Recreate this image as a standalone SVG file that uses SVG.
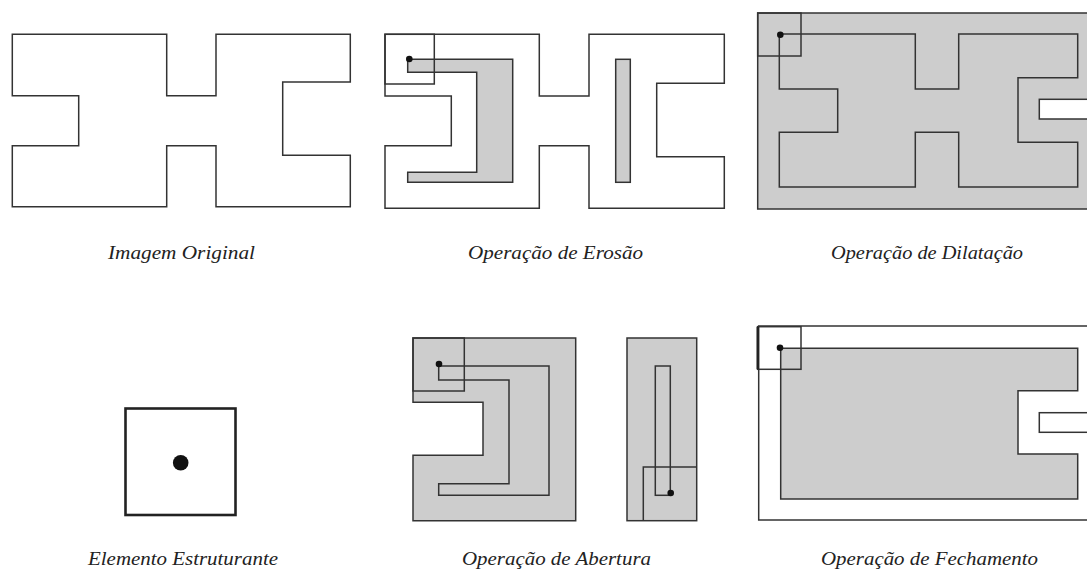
<svg xmlns="http://www.w3.org/2000/svg" width="1087" height="576" viewBox="0 0 1087 576">
<style>
.ln{fill:none;stroke:#333;stroke-width:1.5;stroke-linejoin:miter}
.gf{fill:#cdcdcd;stroke:#333;stroke-width:1.5}
.wf{fill:#fff;stroke:#333;stroke-width:1.5}
.dot{fill:#111}
.lbl{font-family:"Liberation Serif","DejaVu Serif",serif;font-style:italic;font-size:18px;fill:#222}
</style>
<rect width="1087" height="576" fill="#fff"/>
<g id="original">
<path class="ln" d="M12.3,34.3 H166.7 V95.7 H216 V34.3 H350.3 V82 H282.7 V155.3 H350.3 V206.7 H216 V145.7 H166.7 V206.7 H12.3 V145.7 H78.7 V95.7 H12.3 Z"/>
<text class="lbl" x="108" y="259" textLength="147" lengthAdjust="spacingAndGlyphs">Imagem Original</text>
</g>
<g id="erosao">
<path class="ln" d="M385,34.3 H539.3 V96 H589 V34.3 H724.3 V83.3 H656.7 V156.7 H724.3 V208.3 H589 V145.7 H539.3 V208.3 H385 V145.7 H451.3 V96 H385 Z"/>
<path class="gf" d="M407.7,59.3 H512.7 V182.3 H407.7 V172.3 H476.7 V72.3 H407.7 Z"/>
<rect class="gf" x="615.7" y="59.3" width="14.6" height="123"/>
<rect class="ln" x="385" y="34.3" width="49.3" height="49.7"/>
<circle class="dot" cx="409.3" cy="59" r="3.3"/>
<text class="lbl" x="468" y="259" textLength="175" lengthAdjust="spacingAndGlyphs">Operação de Erosão</text>
</g>
<g id="dilatacao">
<rect class="gf" x="757.7" y="13" width="340" height="196"/>
<rect class="wf" x="1039.3" y="99.3" width="60" height="19.7"/>
<path class="ln" d="M779.3,34 H915.3 V89 H958.7 V34 H1077.7 V77.7 H1018 V142.3 H1077.7 V187 H958.7 V132.3 H915.3 V187 H779.3 V132.3 H837.7 V89 H779.3 Z"/>
<rect class="ln" x="757.7" y="13" width="43.3" height="43"/>
<circle class="dot" cx="780.3" cy="34.7" r="3.3"/>
<text class="lbl" x="831" y="259" textLength="192" lengthAdjust="spacingAndGlyphs">Operação de Dilatação</text>
</g>
<g id="elemento">
<rect x="125.5" y="408.5" width="110" height="106.5" fill="none" stroke="#222" stroke-width="2.6"/>
<circle class="dot" cx="180.7" cy="462.7" r="7.8"/>
<text class="lbl" x="88" y="565" textLength="190" lengthAdjust="spacingAndGlyphs">Elemento Estruturante</text>
</g>
<g id="abertura">
<path class="gf" d="M413,338 H575.7 V520.7 H413 V455.3 H483 V402.3 H413 Z"/>
<rect class="ln" x="413" y="338" width="51.3" height="53"/>
<path class="ln" d="M438.7,366 H549 V495.3 H438.7 V483.7 H509 V380 H438.7 Z"/>
<circle class="dot" cx="439" cy="364" r="3.3"/>
<rect class="gf" x="627" y="338" width="69.7" height="182.7"/>
<rect class="ln" x="655.3" y="366" width="15" height="129.3"/>
<path class="ln" d="M643.3,520.7 V467 H696.7"/>
<circle class="dot" cx="670.7" cy="493" r="3.3"/>
<text class="lbl" x="462" y="565" textLength="189" lengthAdjust="spacingAndGlyphs">Operação de Abertura</text>
</g>
<g id="fechamento">
<rect class="wf" x="758.7" y="326" width="340" height="194"/>
<path class="gf" d="M780.7,348.3 H1077.7 V390.7 H1018 V454 H1077.7 V499 H780.7 Z"/>
<rect class="wf" x="1039.3" y="412.7" width="60" height="19.6"/>
<rect class="ln" x="757.7" y="326.7" width="43.3" height="42.6"/>
<line x1="757.7" y1="326.7" x2="757.7" y2="369.3" stroke="#222" stroke-width="2.4"/>
<circle class="dot" cx="780" cy="347.7" r="3.3"/>
<text class="lbl" x="821" y="565" textLength="217" lengthAdjust="spacingAndGlyphs">Operação de Fechamento</text>
</g>
</svg>
